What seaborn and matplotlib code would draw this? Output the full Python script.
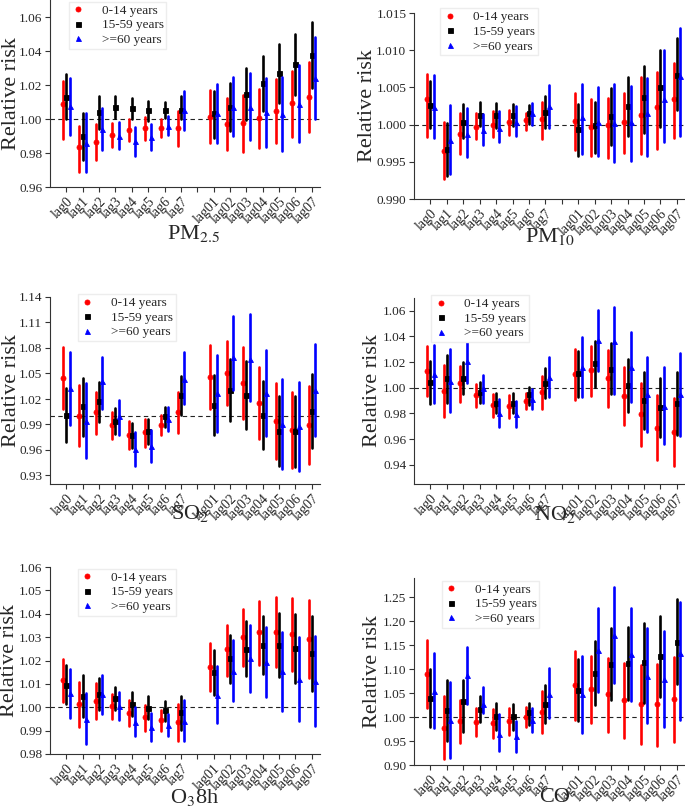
import matplotlib
matplotlib.use("Agg")
import matplotlib.pyplot as plt
import matplotlib.ticker as mticker
import numpy as np
import pandas as pd
import seaborn as sns

# x categories (a blank slot separates single lags from moving averages)
lags = ['lag0', 'lag1', 'lag2', 'lag3', 'lag4', 'lag5', 'lag6', 'lag7',
        'lag01', 'lag02', 'lag03', 'lag04', 'lag05', 'lag06', 'lag07']
groups = ['0-14 years', '15-59 years', '>=60 years']
colors = ['#ff0000', '#000000', '#0000ff']
markers = ['o', 's', '^']

# relative risk, lower and upper 95% CI, one row per age group
pm25_rr = [[1.0086, 0.9836, 0.9865, 0.9906, 0.9934, 0.9947, 0.9947, 0.9947, 1.0013, 0.9970, 0.9974, 1.0004, 1.0047, 1.0092, 1.0131],
           [1.0131, 0.9899, 1.0043, 1.0073, 1.0063, 1.0055, 1.0053, 1.0053, 1.0033, 1.0072, 1.0147, 1.0210, 1.0269, 1.0322, 1.0378],
           [1.0074, 0.9860, 0.9943, 0.9900, 0.9868, 0.9894, 0.9961, 1.0053, 1.0033, 1.0072, 1.0072, 1.0039, 1.0029, 1.0088, 1.0240]]
pm25_lo = [[0.9885, 0.9687, 0.9760, 0.9835, 0.9868, 0.9878, 0.9894, 0.9844, 0.9856, 0.9817, 0.9803, 0.9830, 0.9856, 0.9895, 0.9925],
           [0.9998, 0.9757, 0.9943, 1.0004, 0.9998, 0.9988, 1.0006, 0.9998, 0.9889, 0.9929, 0.9994, 1.0049, 1.0092, 1.0141, 1.0181],
           [0.9905, 0.9687, 0.9819, 0.9825, 0.9785, 0.9816, 0.9905, 0.9935, 0.9856, 0.9899, 0.9876, 0.9836, 0.9813, 0.9866, 0.9999]]
pm25_hi = [[1.0224, 0.9958, 0.9970, 0.9976, 1.0000, 1.0010, 1.0000, 1.0047, 1.0171, 1.0126, 1.0141, 1.0177, 1.0234, 1.0285, 1.0338],
           [1.0265, 1.0033, 1.0136, 1.0136, 1.0122, 1.0108, 1.0098, 1.0136, 1.0167, 1.0210, 1.0299, 1.0368, 1.0441, 1.0502, 1.0570],
           [1.0240, 1.0033, 1.0067, 0.9984, 0.9951, 0.9972, 1.0020, 1.0167, 1.0206, 1.0250, 1.0273, 1.0240, 1.0246, 1.0315, 1.0482]]

pm10_rr = [[1.0034, 0.9965, 0.9987, 0.9997, 1.0000, 1.0003, 1.0006, 1.0008, 1.0005, 0.9997, 0.9999, 1.0004, 1.0013, 1.0024, 1.0035],
           [1.0027, 0.9967, 1.0004, 1.0013, 1.0013, 1.0013, 1.0016, 1.0017, 0.9994, 0.9999, 1.0012, 1.0025, 1.0037, 1.0051, 1.0067],
           [1.0024, 0.9979, 0.9988, 0.9993, 0.9996, 1.0004, 1.0015, 1.0025, 1.0010, 1.0004, 1.0002, 1.0004, 1.0015, 1.0035, 1.0065]]
pm10_lo = [[0.9983, 0.9927, 0.9960, 0.9980, 0.9983, 0.9986, 0.9993, 0.9981, 0.9966, 0.9958, 0.9955, 0.9962, 0.9960, 0.9967, 0.9982],
           [0.9996, 0.9931, 0.9982, 0.9998, 0.9996, 0.9998, 1.0001, 0.9996, 0.9958, 0.9962, 0.9973, 0.9985, 0.9989, 0.9997, 1.0019],
           [0.9982, 0.9933, 0.9956, 0.9972, 0.9977, 0.9985, 1.0000, 0.9996, 0.9960, 0.9958, 0.9950, 0.9951, 0.9958, 0.9977, 0.9985]]
pm10_hi = [[1.0068, 1.0003, 1.0015, 1.0015, 1.0018, 1.0020, 1.0016, 1.0031, 1.0043, 1.0034, 1.0036, 1.0043, 1.0064, 1.0071, 1.0083],
           [1.0058, 1.0002, 1.0028, 1.0030, 1.0029, 1.0028, 1.0026, 1.0039, 1.0028, 1.0030, 1.0049, 1.0064, 1.0079, 1.0100, 1.0116],
           [1.0067, 1.0026, 1.0022, 1.0014, 1.0018, 1.0025, 1.0029, 1.0053, 1.0055, 1.0050, 1.0055, 1.0052, 1.0062, 1.0100, 1.0130]]

so2_rr = [[1.0448, 1.0005, 1.0044, 0.9892, 0.9782, 0.9809, 0.9899, 1.0048, 1.0456, 1.0507, 1.0389, 1.0154, 0.9946, 0.9841, 0.9892],
          [1.0017, 1.0123, 1.0174, 0.9939, 0.9782, 0.9821, 0.9997, 1.0252, 1.0135, 1.0311, 1.0252, 1.0017, 0.9829, 0.9821, 1.0064],
          [1.0330, 0.9939, 1.0409, 0.9997, 0.9613, 0.9645, 0.9966, 1.0436, 1.0272, 1.0695, 1.0675, 1.0272, 0.9907, 0.9880, 1.0311]]
so2_lo = [[1.0087, 0.9645, 0.9794, 0.9729, 0.9606, 0.9633, 0.9779, 0.9802, 1.0080, 1.0135, 0.9966, 0.9735, 0.9496, 0.9390, 0.9437],
          [0.9697, 0.9768, 0.9935, 0.9788, 0.9626, 0.9665, 0.9872, 1.0009, 0.9782, 0.9946, 0.9852, 0.9617, 0.9410, 0.9402, 0.9625],
          [0.9900, 0.9504, 1.0080, 0.9776, 0.9410, 0.9457, 0.9826, 1.0138, 0.9813, 1.0311, 1.0174, 0.9762, 0.9382, 0.9351, 0.9762]]
so2_hi = [[1.0808, 1.0366, 1.0288, 1.0052, 0.9940, 0.9966, 1.0017, 1.0288, 1.0840, 1.0887, 1.0808, 1.0573, 1.0389, 1.0283, 1.0350],
          [1.0327, 1.0452, 1.0405, 1.0091, 0.9923, 0.9966, 1.0103, 1.0476, 1.0479, 1.0671, 1.0644, 1.0409, 1.0240, 1.0240, 1.0499],
          [1.0749, 1.0385, 1.0690, 1.0190, 0.9810, 0.9834, 1.0103, 1.0750, 1.0722, 1.1173, 1.1204, 1.0773, 1.0436, 1.0401, 1.0852]]

no2_rr = [[1.0134, 0.9975, 1.0035, 0.9944, 0.9867, 0.9859, 0.9900, 0.9965, 1.0108, 1.0139, 1.0079, 0.9937, 0.9794, 0.9690, 0.9654],
          [1.0043, 1.0074, 1.0079, 0.9965, 0.9885, 0.9885, 0.9950, 1.0035, 1.0113, 1.0190, 1.0146, 1.0022, 0.9905, 0.9848, 0.9885],
          [1.0105, 1.0056, 1.0211, 0.9996, 0.9807, 0.9794, 0.9913, 1.0087, 1.0159, 1.0372, 1.0364, 1.0159, 0.9952, 0.9861, 0.9952]]
no2_lo = [[0.9937, 0.9771, 0.9892, 0.9848, 0.9776, 0.9768, 0.9833, 0.9835, 0.9905, 0.9937, 0.9854, 0.9711, 0.9550, 0.9439, 0.9392],
          [0.9872, 0.9885, 0.9950, 0.9880, 0.9802, 0.9802, 0.9867, 0.9918, 0.9931, 1.0004, 0.9952, 0.9815, 0.9677, 0.9613, 0.9633],
          [0.9880, 0.9810, 1.0040, 0.9880, 0.9698, 0.9693, 0.9835, 0.9931, 0.9931, 1.0134, 0.9950, 0.9892, 0.9659, 0.9563, 0.9626]]
no2_hi = [[1.0325, 1.0178, 1.0170, 1.0030, 0.9952, 0.9944, 0.9957, 1.0092, 1.0299, 1.0328, 1.0294, 1.0159, 1.0035, 0.9944, 0.9918],
          [1.0211, 1.0255, 1.0198, 1.0043, 0.9957, 0.9962, 1.0004, 1.0152, 1.0286, 1.0364, 1.0346, 1.0222, 1.0120, 1.0079, 1.0126],
          [1.0333, 1.0299, 1.0354, 1.0100, 0.9911, 0.9900, 0.9988, 1.0242, 1.0398, 1.0610, 1.0631, 1.0432, 1.0242, 1.0165, 1.0274]]

o3_rr = [[1.0115, 1.0013, 1.0028, 1.0005, 0.9975, 0.9957, 0.9945, 0.9935, 1.0172, 1.0249, 1.0300, 1.0322, 1.0322, 1.0313, 1.0292],
         [1.0097, 1.0050, 1.0058, 1.0040, 1.0015, 0.9998, 0.9987, 0.9978, 1.0149, 1.0211, 1.0251, 1.0268, 1.0268, 1.0253, 1.0232],
         [1.0059, 0.9948, 1.0055, 1.0005, 0.9937, 0.9915, 0.9922, 0.9943, 1.0054, 1.0157, 1.0211, 1.0194, 1.0154, 1.0121, 1.0111]]
o3_lo = [[1.0021, 0.9914, 0.9950, 0.9951, 0.9918, 0.9900, 0.9900, 0.9854, 1.0068, 1.0132, 1.0175, 1.0182, 1.0171, 1.0154, 1.0125],
         [1.0014, 0.9957, 0.9990, 0.9990, 0.9964, 0.9950, 0.9943, 0.9904, 1.0051, 1.0104, 1.0132, 1.0142, 1.0128, 1.0104, 1.0068],
         [0.9954, 0.9843, 0.9971, 0.9947, 0.9876, 0.9854, 0.9876, 0.9854, 0.9933, 1.0028, 1.0065, 1.0042, 0.9983, 0.9943, 0.9918]]
o3_hi = [[1.0206, 1.0108, 1.0104, 1.0057, 1.0030, 1.0008, 0.9988, 1.0014, 1.0275, 1.0353, 1.0422, 1.0453, 1.0472, 1.0467, 1.0457],
         [1.0182, 1.0137, 1.0125, 1.0085, 1.0064, 1.0047, 1.0025, 1.0047, 1.0246, 1.0311, 1.0368, 1.0389, 1.0403, 1.0399, 1.0389],
         [1.0164, 1.0060, 1.0139, 1.0064, 1.0000, 0.9975, 0.9971, 1.0032, 1.0178, 1.0286, 1.0353, 1.0343, 1.0322, 1.0300, 1.0306]]

co_rr = [[1.0900, 0.9779, 0.9910, 0.9900, 0.9880, 0.9910, 1.0009, 1.0113, 1.0670, 1.0580, 1.0475, 1.0357, 1.0266, 1.0266, 1.0378],
         [1.0406, 1.0150, 1.0330, 1.0170, 1.0020, 1.0020, 1.0113, 1.0266, 1.0566, 1.0927, 1.1108, 1.1136, 1.1143, 1.1275, 1.1574],
         [1.0545, 0.9930, 1.0879, 1.0270, 0.9650, 0.9600, 0.9939, 1.0482, 1.0475, 1.1400, 1.1714, 1.1317, 1.0858, 1.0795, 1.1331]]
co_lo = [[1.0197, 0.9118, 0.9452, 0.9605, 0.9571, 0.9626, 0.9800, 0.9675, 0.9939, 0.9870, 0.9696, 0.9571, 0.9431, 0.9404, 0.9487],
         [0.9800, 0.9508, 0.9696, 0.9905, 0.9730, 0.9730, 0.9835, 0.9870, 0.9925, 1.0252, 1.0357, 1.0357, 1.0287, 1.0426, 1.0684],
         [0.9765, 0.9140, 1.0273, 1.0092, 0.9292, 0.9264, 0.9696, 0.9974, 0.9675, 1.0531, 1.0719, 1.0336, 0.9870, 0.9800, 0.9939]]
co_hi = [[1.1609, 1.0447, 1.0357, 1.0183, 1.0169, 1.0197, 1.0218, 1.0545, 1.1387, 1.1275, 1.1240, 1.1136, 1.1087, 1.1108, 1.1261],
         [1.1004, 1.0774, 1.0774, 1.0447, 1.0287, 1.0273, 1.0301, 1.0670, 1.1206, 1.1588, 1.1853, 1.1888, 1.1957, 1.2117, 1.2465],
         [1.1331, 1.0740, 1.1470, 1.0635, 1.0058, 0.9925, 1.0183, 1.1018, 1.1275, 1.2270, 1.2709, 1.2270, 1.1853, 1.1804, 1.2409]]

# title, data, y range, y ticks, tick format
panels = [
    ('PM$_{2.5}$', pm25_rr, pm25_lo, pm25_hi, (0.96, 1.07), np.arange(0.96, 1.061, 0.02), '%.2f'),
    ('PM$_{10}$', pm10_rr, pm10_lo, pm10_hi, (0.990, 1.015), np.arange(0.990, 1.0151, 0.005), '%.3f'),
    ('SO$_2$', so2_rr, so2_lo, so2_hi, (0.92, 1.14), np.arange(0.93, 1.141, 0.03), '%.2f'),
    ('NO$_2$', no2_rr, no2_lo, no2_hi, (0.925, 1.07), np.arange(0.94, 1.061, 0.02), '%.2f'),
    ('O$_3$8h', o3_rr, o3_lo, o3_hi, (0.98, 1.06), np.arange(0.98, 1.061, 0.01), '%.2f'),
    ('CO', co_rr, co_lo, co_hi, (0.90, 1.29), np.arange(0.90, 1.251, 0.05), '%.2f'),
]

# axes boxes in pixels: left, top, right, bottom
boxes = [(50, 0, 320, 187), (414, 13, 685, 199),
         (50, 297, 320, 484), (414, 298, 685, 484),
         (50, 567, 320, 754), (414, 578, 685, 765)]
legend_anchor = [(0.045, 1.025), (0.073, 1.06), (0.08, 1.05), (0.04, 1.05), (0.08, 1.025), (0.078, 1.02)]
xlabel_pos = [(0.53, -0.195), (0.50, -0.145), (0.52, -0.10), (0.52, -0.11), (0.535, -0.175), (0.52, -0.125)]
ylabel_x = [-0.107, -0.137, -0.107, -0.117, -0.113, -0.117]

sns.set_style('ticks')
plt.rcParams['font.family'] = ['Liberation Serif', 'DejaVu Serif']
plt.rcParams['mathtext.fontset'] = 'stix'

order = lags[:8] + [''] + lags[8:]
W, H = 685, 808
fig = plt.figure(figsize=(W / 100, H / 100), dpi=100)

for i, (name, rr, lo, hi, ylim, yticks, fmt) in enumerate(panels):
    l, t, r, b = boxes[i]
    ax = fig.add_axes([l / W, 1 - b / H, (r - l) / W, (b - t) / H])

    rows = []
    for g, grp in enumerate(groups):
        for k, lag in enumerate(lags):
            for v in (lo[g][k], rr[g][k], hi[g][k]):
                rows.append({'lag': lag, 'group': grp, 'rr': v})
    df = pd.DataFrame(rows)

    ax.axhline(1.0, color='#222222', lw=0.8, ls=(0, (4, 3)), zorder=0)
    # median of (lo, rr, hi) is the estimate, the 100% interval is the CI
    sns.pointplot(data=df, x='lag', y='rr', hue='group', order=order,
                  hue_order=groups, palette=colors, markers=markers,
                  linestyle='none', dodge=0.4, estimator='median',
                  errorbar=('pi', 100), err_kws={'linewidth': 1.9},
                  markersize=3.6, markeredgewidth=0.6, ax=ax)

    leg = ax.get_legend()
    handles = leg.legend_handles
    labels = [tx.get_text() for tx in leg.texts]
    leg.remove()
    ax.legend(handles, labels, loc='upper left', bbox_to_anchor=legend_anchor[i],
              fontsize=9.5, handlelength=1.0, handletextpad=1.3, labelspacing=0.18,
              borderpad=0.2, frameon=True, fancybox=False, edgecolor='#ededed',
              framealpha=1)

    ax.set_xlim(-1, 15.5)
    ax.set_ylim(*ylim)
    ax.set_yticks(yticks)
    ax.yaxis.set_major_formatter(mticker.FormatStrFormatter(fmt))
    ax.tick_params(axis='both', direction='out', length=3.5, width=0.8,
                   labelsize=9.5, pad=2, color='#333333')
    ax.tick_params(axis='x', labelsize=10)
    plt.setp(ax.get_xticklabels(), rotation=45, ha='right', rotation_mode='anchor')

    ax.set_xlabel(name, fontsize=16)
    ax.xaxis.set_label_coords(*xlabel_pos[i])
    ax.set_ylabel('Relative risk', fontsize=16)
    ax.yaxis.set_label_coords(ylabel_x[i], 0.5)
    sns.despine(ax=ax)
    for sp in ax.spines.values():
        sp.set_linewidth(0.8)
        sp.set_color('#333333')

fig.savefig('out.png', dpi=100)
